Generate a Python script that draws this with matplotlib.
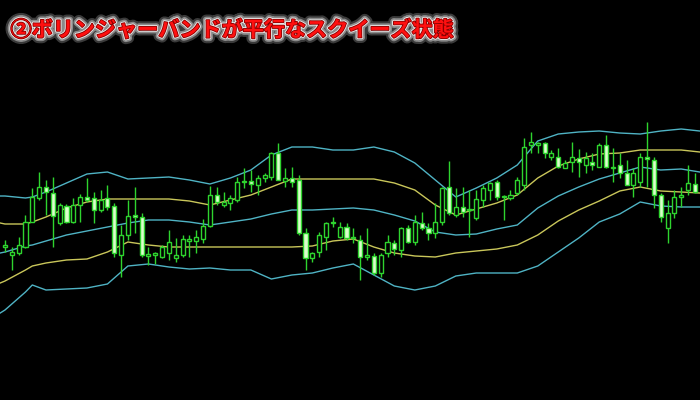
import matplotlib
matplotlib.use("Agg")
import matplotlib.pyplot as plt
import matplotlib.patheffects as pe
import numpy as np

# ---- candle data (price units), one per bar ----
opens = [153,145,147,153,178,202,213,207,177,194,178,195,203,202,190,202,194,145,165,185,
         183,144,145,143,147,142,145,159,159,161,174,205,195,197,200,218,219,215,222,223,
         247,219,222,220,167,142,148,163,178,163,173,162,160,143,144,127,147,157,150,172,
         158,177,172,167,178,213,185,193,190,182,200,210,218,203,202,207,215,255,255,257,
         243,243,232,238,242,235,238,233,255,232,235,227,215,218,243,240,205,172,187,203,
         210,216]
highs = [160,153,163,185,212,228,220,223,197,196,202,206,222,208,210,215,197,175,200,213,
         187,153,148,155,170,162,165,165,170,181,214,213,208,205,223,232,230,225,227,248,
         257,232,233,225,172,148,168,178,183,178,177,172,165,172,147,147,165,160,173,175,
         185,188,177,197,213,239,212,213,210,210,215,218,220,205,210,223,262,268,258,258,
         250,252,240,258,251,248,247,257,265,252,247,240,232,247,278,243,207,200,210,213,
         235,227]
lows = [148,130,145,152,178,200,185,153,175,177,177,178,198,177,188,190,143,123,160,167,
        143,135,136,142,140,138,143,143,147,157,173,195,193,190,198,212,208,205,218,220,
        220,213,213,165,130,138,143,150,173,162,160,157,120,140,125,123,143,145,143,157,
        155,170,160,162,175,185,183,183,163,180,193,200,200,180,200,205,210,247,247,242,
        240,232,232,228,223,227,230,233,232,218,222,215,203,213,213,192,178,157,182,193,
        205,207]
closes = [155,148,155,178,203,213,208,184,195,178,195,203,200,190,200,193,147,165,184,183,
          145,146,147,153,158,145,161,161,163,174,205,198,198,202,218,219,216,222,225,247,
          220,222,218,167,142,147,165,177,177,173,162,163,143,145,127,145,158,151,172,158,
          178,172,167,178,212,187,193,188,191,201,212,217,203,204,205,220,253,258,257,247,
          247,233,237,243,238,242,235,255,233,233,227,215,227,243,241,205,183,187,203,205,
          217,208]

# ---- Bollinger band readings (bar index, price) ----
band_idx = [-0.7, 0, 3, 4, 6, 9, 12, 15, 18, 21, 24, 27, 30, 33, 36, 39, 42, 45, 48, 51,
            54, 57, 60, 63, 66, 69, 72, 75, 78, 81, 84, 87, 90, 93, 96, 99, 101.7]
upper2 = [204,204,202,203,208,217,226,228,221,222,223,220,216,222,230,245,253,253,250,250,
          253,248,237,220,203,212,222,235,259,266,268,269,267,266,269,271,269]
upper1 = [177,176,176,178,183,192,198,201,201,201,201,199,195,200,205,213,221,221,221,221,
          221,217,210,195,185,191,197,205,222,234,241,246,247,250,250,250,248]
middle = [147,148,154,155,159,165,169,173,177,180,180,178,175,178,181,186,190,190,191,192,
          190,185,179,168,165,166,171,175,192,204,213,221,227,233,230,231,228]
lower1 = [117,119,130,134,137,140,141,148,158,155,153,153,153,153,153,153,153,154,159,161,
          153,147,144,143,147,149,151,155,165,179,190,199,209,213,209,208,207]
lower2 = [87,90,108,115,110,111,112,116,134,136,133,131,132,130,130,121,125,127,132,136,
          125,114,110,114,124,127,127,127,134,148,162,178,186,198,194,193,193]

title = "②ボリンジャーバンドが平行なスクイーズ状態"

plt.rcParams['font.family'] = ['Noto Sans CJK JP', 'DejaVu Sans']

fig = plt.figure(figsize=(7, 4), dpi=100, facecolor='black')
ax = fig.add_axes([0, 0, 1, 1])
ax.set_facecolor('black')

CYAN = '#4fb3c4'
YELLOW = '#c9c65a'
GREEN = '#2ed42e'
BEARFILL = '#dcffcc'

for arr, col in [(upper2, CYAN), (upper1, YELLOW), (middle, CYAN), (lower1, YELLOW), (lower2, CYAN)]:
    ax.plot(band_idx, arr, color=col, lw=1.0, zorder=1)

x = np.arange(len(opens))
o = np.array(opens, float); c = np.array(closes, float)
h = np.array(highs, float); l = np.array(lows, float)
ax.vlines(x, l, h, color=GREEN, lw=1.0, zorder=2)
bull = c >= o
bottom = np.minimum(o, c)
height = np.maximum(np.abs(c - o), 1.2)
ax.bar(x[bull], height[bull], bottom=bottom[bull], width=0.6, facecolor='black',
       edgecolor=GREEN, linewidth=1.0, zorder=3)
ax.bar(x[~bull], height[~bull], bottom=bottom[~bull], width=0.6, facecolor=BEARFILL,
       edgecolor=GREEN, linewidth=1.0, zorder=3)

ax.set_xlim(-0.73, 101.75)
ax.set_ylim(0, 400)
ax.axis('off')

fig.text(0.015, 0.925, title, color='#ff1010', fontsize=15.2, fontweight='bold',
         ha='left', va='center',
         path_effects=[pe.withStroke(linewidth=8, foreground='#3a3a3a'),
                       pe.withStroke(linewidth=5, foreground='#8a8a8a'),
                       pe.withStroke(linewidth=2.5, foreground='#e8e8e8'),
                       pe.withStroke(linewidth=1.2, foreground='#8a0000')])

fig.savefig('out.png', dpi=100, facecolor='black')
